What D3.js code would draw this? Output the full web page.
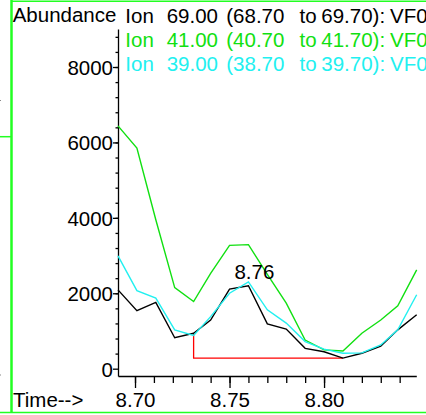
<!DOCTYPE html>
<html>
<head>
<meta charset="utf-8">
<script src="https://cdn.jsdelivr.net/npm/d3@7"></script>
<style>
    body { margin: 0; background: white; }
    svg { display: block; }
    text { font-family: "Liberation Sans", Arial, sans-serif; }
</style>
</head>
<body>
<script>
// retention times (min) of the scans
const times = [8.691, 8.701, 8.711, 8.721, 8.731, 8.740, 8.750, 8.760, 8.770,
               8.780, 8.790, 8.800, 8.810, 8.820, 8.830, 8.839, 8.849];

// abundances for each extracted ion
const ion69 = [2090, 1540, 1760, 820, 940, 1290, 2110, 2200, 1190, 1050, 540, 450, 280, 410, 600, 1030, 1430];
const ion41 = [6440, 5850, 3950, 2150, 1780, 2530, 3270, 3290, 2500, 1740, 760, 500, 470, 940, 1290, 1670, 2620];
const ion39 = [2990, 2070, 1870, 1030, 880, 1380, 2000, 2300, 1560, 1210, 720, 520, 410, 420, 630, 1030, 1960];

const seriesNames = [
    ["Ion", "69.00", "(68.70", "to", "69.70):", "VF0"],
    ["Ion", "41.00", "(40.70", "to", "41.70):", "VF0"],
    ["Ion", "39.00", "(38.70", "to", "39.70):", "VF0"]
];
const seriesColors = ["#000000", "#11e011", "#22f0f0"];

const yTicks = [0, 2000, 4000, 6000, 8000];
const xTicks = [8.70, 8.75, 8.80];

// integrated peak: start / end scan index and its label
const baselineIdx = [4, 12];
const peakTime = 8.76;
const peakLabel = "8.76";

window.onload = main;

const svgWidth = 426;
const svgHeight = 415;
const fontSize = 20.5;

function main() {
    const svg = d3.select("body")
        .append("svg")
        .attr("width", svgWidth)
        .attr("height", svgHeight);

    const x = d3.scaleLinear().domain([8.691, 8.8488]).range([118, 416.3]);
    const y = d3.scaleLinear().domain([-194, 9008]).range([376, 29]);

    draw_frame(svg);

    // y axis, minor ticks first
    svg.append("g")
        .attr("transform", "translate(118,0)")
        .call(d3.axisLeft(y).tickValues(d3.range(400, 9000, 400)).tickSize(2.5).tickFormat(""))
        .call(g => g.select(".domain").remove());
    svg.append("g")
        .attr("transform", "translate(118,0)")
        .call(d3.axisLeft(y).tickValues(yTicks).tickSize(5).tickSizeOuter(0).tickPadding(0).tickFormat(d3.format("d")))
        .call(g => g.selectAll("text").style("font-size", fontSize + "px").attr("dy", "0.36em"));

    // x axis
    svg.append("g")
        .attr("transform", "translate(0,376)")
        .call(d3.axisBottom(x).tickValues(d3.range(8.70, 8.845, 0.01)).tickSize(7).tickFormat(""))
        .call(g => g.select(".domain").remove());
    svg.append("g")
        .attr("transform", "translate(0,376)")
        .call(d3.axisBottom(x).tickValues(xTicks).tickSize(12).tickSizeOuter(0).tickFormat(d3.format(".2f")))
        .call(g => g.selectAll("text").style("font-size", fontSize + "px").attr("y", 30.7).attr("dy", null));

    svg.selectAll(".domain, .tick line").attr("stroke-width", 1.3);
    svg.selectAll(".tick text").attr("fill", "black");

    // axis titles
    svg.append("text").attr("x", 12.7).attr("y", 22)
        .style("font-size", fontSize + "px").text("Abundance");
    svg.append("text").attr("x", 13).attr("y", 406.7)
        .style("font-size", fontSize + "px").text("Time-->");

    // legend
    const wordX = [125.3, 166.7, 226.3, 299.5, 321.3, 390];
    seriesNames.forEach((words, i) => {
        const t = svg.append("text")
            .attr("y", 22.5 + i * 24.3)
            .attr("fill", seriesColors[i])
            .style("font-size", fontSize + "px");
        t.selectAll("tspan")
            .data(words)
            .join("tspan")
            .attr("x", (d, j) => wordX[j])
            .text(d => d);
    });

    // integration baseline
    const [i0, i1] = baselineIdx;
    svg.append("path")
        .attr("d", `M${x(times[i0])},${y(ion69[i0])}V${y(ion69[i1])}H${x(times[i1])}`)
        .attr("fill", "none")
        .attr("stroke", "#ff0000")
        .attr("stroke-width", 1.3);

    // chromatograms
    const line = d3.line()
        .x((d, i) => x(times[i]))
        .y(d => y(d));

    [ion69, ion41, ion39].forEach((vals, i) => {
        svg.append("path")
            .datum(vals)
            .attr("d", line)
            .attr("fill", "none")
            .attr("stroke", seriesColors[i])
            .attr("stroke-width", 1.4);
    });

    // peak label
    const peakY = d3.max(ion69);
    svg.append("text")
        .attr("x", x(peakTime) + 6)
        .attr("y", y(peakY) - 7)
        .attr("text-anchor", "middle")
        .style("font-size", fontSize + "px")
        .text(peakLabel);
}

function draw_frame(svg) {
    const frame = svg.append("g")
        .attr("stroke", "#22ff22")
        .attr("fill", "none");
    frame.append("line").attr("x1", 11.5).attr("x2", 11.5).attr("y1", 0).attr("y2", 413).attr("stroke-width", 2.5);
    frame.append("line").attr("x1", 11).attr("x2", 426).attr("y1", 1.2).attr("y2", 1.2).attr("stroke-width", 1.5);
    frame.append("line").attr("x1", 0).attr("x2", 426).attr("y1", 412.5).attr("y2", 412.5).attr("stroke-width", 1.5);
    frame.append("line").attr("x1", 0).attr("x2", 11).attr("y1", 136.7).attr("y2", 136.7).attr("stroke-width", 1.5);

    // stray pixels on the left border
    svg.append("rect").attr("x", 0).attr("y", 100).attr("width", 1).attr("height", 1).attr("fill", "#888");
    svg.append("rect").attr("x", 0).attr("y", 374.5).attr("width", 1).attr("height", 1).attr("fill", "#888");
}
</script>
</body>
</html>
